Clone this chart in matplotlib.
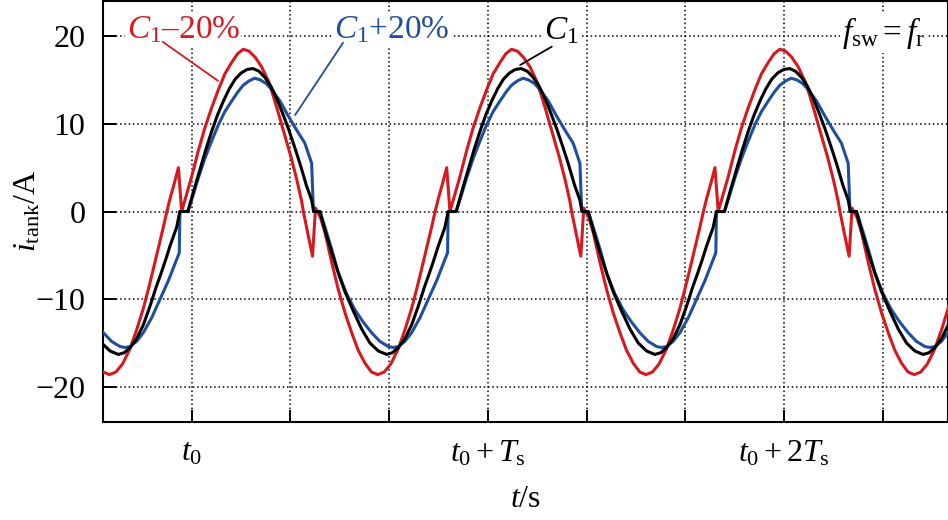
import numpy as np
import matplotlib.pyplot as plt

plt.rcParams['font.family'] = ['Liberation Serif', 'DejaVu Serif']
plt.rcParams['mathtext.fontset'] = 'custom'
plt.rcParams['mathtext.rm'] = 'Liberation Serif'
plt.rcParams['mathtext.it'] = 'Liberation Serif:italic'

# one period of i_tank (A), phase in Ts measured from the start of the
# zero step of the C1 curve; the plotted waveform repeats this period
period = 0.906
start = -0.040
n_before, n_after = 1, 3

ph_c1 = [0.000, 0.027, 0.047, 0.067, 0.087, 0.107, 0.127, 0.147, 0.167,
         0.187, 0.207, 0.227, 0.247, 0.267, 0.287, 0.307, 0.327, 0.347,
         0.367, 0.387, 0.407, 0.427, 0.445, 0.452, 0.473, 0.492, 0.512,
         0.535, 0.557, 0.585, 0.614, 0.642, 0.670, 0.698, 0.718, 0.738,
         0.760, 0.783, 0.805, 0.827, 0.843, 0.858, 0.873, 0.895]
i_c1 = [0.0, 0.0, 2.4, 4.7, 7.0, 9.1, 11.0, 12.6, 14.0,
        15.1, 15.8, 16.2, 16.3, 16.0, 15.3, 14.3, 12.9, 11.2,
        9.4, 7.4, 5.3, 3.0, 1.3, 0.0, 0.0, -2.4, -4.6,
        -7.0, -9.1, -11.3, -13.4, -15.0, -15.9, -16.3, -16.1, -15.5,
        -14.5, -12.9, -10.8, -8.5, -7.0, -5.5, -3.9, -1.8]

ph_minus = [0.006, 0.023, 0.040, 0.062, 0.085, 0.107, 0.130, 0.152, 0.175,
            0.195, 0.214, 0.233, 0.254, 0.276, 0.300, 0.317, 0.332, 0.355,
            0.377, 0.395, 0.411, 0.417, 0.432, 0.448, 0.458, 0.475, 0.490,
            0.512, 0.535, 0.558, 0.580, 0.602, 0.625, 0.647, 0.668, 0.690,
            0.712, 0.737, 0.760, 0.783, 0.800, 0.816, 0.833, 0.850, 0.862,
            0.873, 0.887, 0.901]
i_minus = [0.0, 2.0, 4.0, 6.9, 9.6, 11.8, 13.9, 15.7, 17.0,
           18.0, 18.5, 18.3, 17.6, 16.5, 14.8, 13.0, 11.3, 8.6,
           6.0, 3.6, 1.2, 0.0, -2.5, -5.1, 0.4, -0.7, -2.4,
           -5.7, -8.9, -11.6, -13.8, -15.8, -17.3, -18.3, -18.6, -18.3,
           -17.4, -15.7, -13.5, -11.0, -8.8, -6.6, -4.2, -1.8, 0.0,
           1.5, 3.2, 5.0]

ph_plus = [0.000, 0.027, 0.045, 0.062, 0.085, 0.107, 0.130, 0.152, 0.175,
           0.195, 0.214, 0.234, 0.253, 0.272, 0.291, 0.310, 0.338, 0.366,
           0.394, 0.422, 0.445, 0.451, 0.473, 0.492, 0.512, 0.535, 0.563,
           0.591, 0.619, 0.647, 0.675, 0.704, 0.720, 0.738, 0.760, 0.783,
           0.811, 0.839, 0.867, 0.895, 0.904]
i_plus = [0.0, 0.0, 1.9, 3.8, 6.1, 8.0, 9.9, 11.4, 12.6,
          13.6, 14.4, 14.9, 15.2, 15.0, 14.6, 13.9, 12.6, 10.9,
          9.3, 7.8, 5.5, 0.0, 0.0, -2.0, -4.2, -7.0, -9.4,
          -11.2, -12.6, -13.8, -14.8, -15.4, -15.5, -15.4, -14.8, -13.8,
          -12.1, -10.0, -7.9, -5.5, -4.7]

tick_pos = [0, 1 / 3, 2 / 3, 1, 4 / 3, 5 / 3, 2, 7 / 3]
tick_lab = [r'$t_0$', '', '', r'$t_0+T_{\rm s}$', '', '',
            r'$t_0+2T_{\rm s}$', '']
y_ticks = [-20, -10, 0, 10, 20]

red = '#d7191f'
blue = '#1f4f9c'


def repeat(ph, val):
    t = np.concatenate([np.array(ph) + start + k * period
                        for k in range(-n_before, n_after)])
    return t, np.tile(val, n_before + n_after)


fig = plt.figure(figsize=(9.48, 5.2), dpi=100)
ax = fig.add_axes([0.109, 0.1885, 0.891, 0.8095])

t, v = repeat(ph_minus, i_minus)
ax.plot(t, v, color=red, lw=2.2, zorder=3)
t, v = repeat(ph_plus, i_plus)
ax.plot(t, v, color=blue, lw=2.2, zorder=3)
t, v = repeat(ph_c1, i_c1)
ax.plot(t, v, color='k', lw=2.2, zorder=4)

ax.set_xlim(-0.2985, 2.554)
ax.set_ylim(-24, 24)
ax.set_xticks(tick_pos)
ax.set_xticklabels(tick_lab)
ax.set_yticks(y_ticks)
ax.set_yticklabels([str(y).replace('-', '\u2212') for y in y_ticks])
ax.grid(True, color='k', linestyle=(0, (1, 1.8)), linewidth=1.1)
ax.tick_params(direction='in', length=9, width=1.4, labelsize=23,
               top=False, right=False)
ax.tick_params(axis='y', pad=13)
ax.tick_params(axis='x', pad=12)
for s in ax.spines.values():
    s.set_linewidth(1.5)

ax.set_xlabel(r'$t$/s', fontsize=23, labelpad=12)
ax.set_ylabel(r'$i_{\rm tank}$/A', fontsize=23)
ax.yaxis.set_label_coords(-0.072, 0.5)

box = dict(facecolor='white', edgecolor='none', pad=1)
ax.text(-0.028, 20.7, r'$C_1$' + '\u2013' + '20%', color=red, fontsize=24,
        ha='center', va='center', bbox=box)
ax.text(0.675, 20.7, r'$C_1$' + '+20%', color=blue, fontsize=24,
        ha='center', va='center', bbox=box)
ax.text(1.249, 20.6, r'$C_1$', color='k', fontsize=24,
        ha='center', va='center', bbox=box)
ax.text(2.336, 20.3, r'$f_{\rm sw}=f_{\rm r}$', fontsize=24,
        ha='center', va='center', bbox=box)

ax.annotate('', xy=(0.089, 14.9), xytext=(-0.098, 19.35),
            arrowprops=dict(arrowstyle='-', color=red, lw=1.3,
                            shrinkA=0, shrinkB=0))
ax.annotate('', xy=(0.349, 11.0), xytext=(0.511, 19.24),
            arrowprops=dict(arrowstyle='-', color=blue, lw=1.3,
                            shrinkA=0, shrinkB=0))
ax.annotate('', xy=(1.109, 16.7), xytext=(1.216, 18.8),
            arrowprops=dict(arrowstyle='-', color='k', lw=1.3,
                            shrinkA=0, shrinkB=0))

fig.savefig('out.png', dpi=100)
